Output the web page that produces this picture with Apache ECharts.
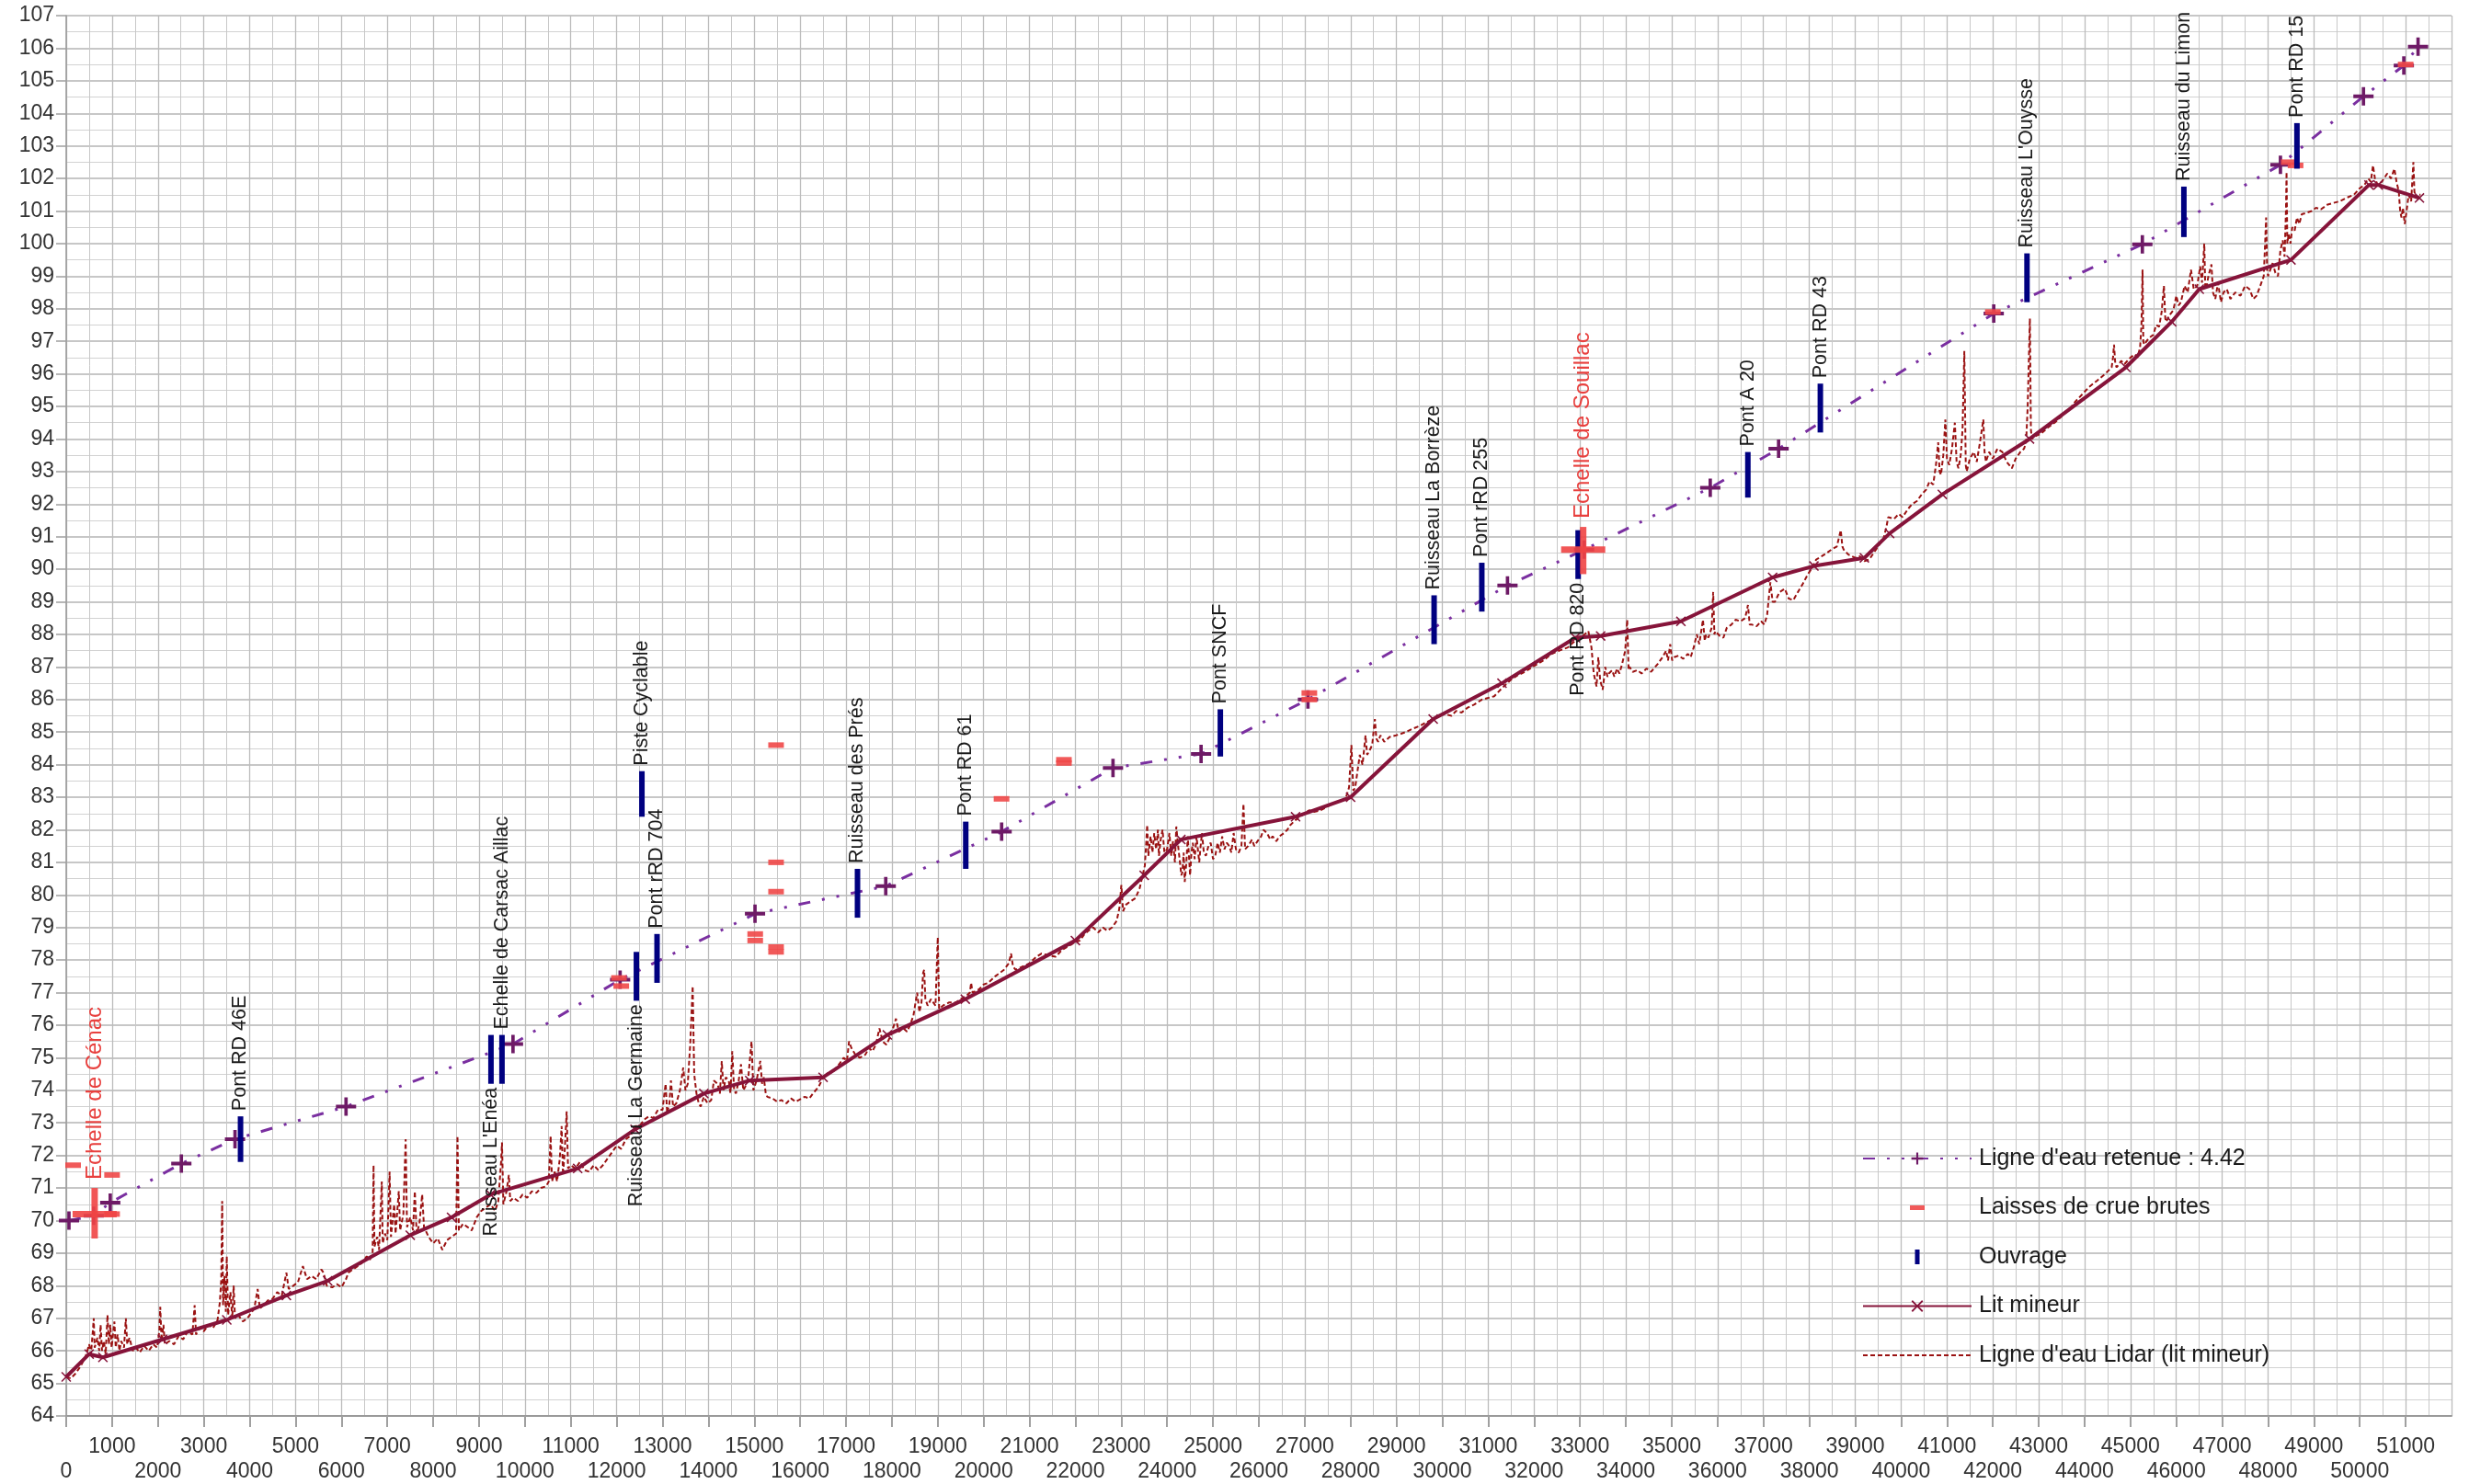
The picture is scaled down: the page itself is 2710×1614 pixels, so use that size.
<!DOCTYPE html>
<html>
<head>
<meta charset="utf-8">
<script src="https://cdn.jsdelivr.net/npm/echarts@6/dist/echarts.min.js"></script>
<style>
html,body{margin:0;padding:0;background:#fff;}
#chart{width:2710px;height:1614px;}
</style>
</head>
<body>
<div id="chart"></div>
<script>
// ---------------- DATA ----------------
const xTickValues = {min: 0, max: 52000, step: 1000};
const yTickValues = {min: 64, max: 107, step: 1};

const ligneEauRetenue = [
  [60,70.0],[600,70.15],[960,70.55],[2510,71.75],[3680,72.5],[6100,73.5],[9740,75.42],
  [12075,77.4],[15016,79.42],[17866,80.27],[20392,81.94],[22820,83.9],[24740,84.33],
  [27070,86.0],[31420,89.5],[33090,90.6],[35840,92.5],[37330,93.7],[42020,97.85],
  [45260,99.98],[48270,102.42],[50080,104.52],[50960,105.47],[51270,106.05]
];

const laissesCrue = [
  [150,71.7],[1000,71.4],[1000,70.2],[12050,77.45],[12100,77.2],[15020,78.8],[15020,78.6],
  [15475,84.6],[15475,81.0],[15475,80.1],[15475,78.4],[15475,78.25],[20390,82.95],
  [21750,84.15],[21750,84.05],[27100,86.2],[27100,86.0],[42000,97.9],[48450,102.5],
  [48600,102.4],[51000,105.5]
];

const ouvrageNames = [
  "Pont RD 46E","Ruisseau L'Enéa","Echelle de Carsac Aillac","Ruisseau La Germaine",
  "Piste Cyclable","Pont rRD 704","Ruisseau des Prés","Pont RD 61","Pont SNCF",
  "Ruisseau La Borrèze","Pont rRD 255","Pont RD 820","Pont A 20","Pont RD 43",
  "Ruisseau L'Ouysse","Ruisseau du Limon","Pont RD 15"
];
const ouvrageX    = [3800, 9260, 9500, 12430, 12550, 12880, 17250, 19610, 25160, 29820, 30860, 32960, 36660, 38240, 42745, 46165, 48630];
const ouvrageYmin = [71.8, 74.2, 74.2, 76.75, 82.4, 77.3, 79.3, 80.8, 84.25, 87.7, 88.7, 89.7, 92.2, 94.2, 98.2, 100.2, 102.3];
const ouvrageYmax = [73.2, 75.7, 75.7, 78.25, 83.8, 78.8, 80.8, 82.25, 85.7, 89.2, 90.2, 91.2, 93.6, 95.7, 99.7, 101.75, 103.7];
const labelsBelow = ["Ruisseau L'Enéa","Ruisseau La Germaine","Pont RD 820"];

const echelleNames = ["Echelle de Cénac","Echelle de Souillac"];
const echelleX     = [620, 33070];
const echelleYmid  = [70.2, 90.6];
const echelleYmin  = [69.45, 89.85];
const echelleYmax  = [71.0, 91.3];

const litMineur = [
  [0,65.2],[500,65.9],[800,65.8],[2100,66.35],[3500,66.95],[4800,67.7],[5700,68.15],
  [7500,69.55],[8400,70.1],[9250,70.8],[11150,71.6],[12400,72.8],[13900,73.9],[14900,74.3],
  [16500,74.4],[17900,75.7],[19600,76.8],[22000,78.6],[23500,80.6],[24300,81.7],[26800,82.4],
  [28000,83.0],[29800,85.4],[31300,86.5],[32900,87.9],[33450,87.95],[35200,88.4],[37200,89.75],
  [38100,90.1],[39200,90.35],[39750,91.1],[40900,92.3],[42800,94.0],[44900,96.2],[45900,97.6],
  [46500,98.6],[48500,99.5],[50200,101.8],[50400,101.8],[51300,101.4]
];

const lidar = [
[0,65.2],[100,65.15],[200,65.3],[300,65.5],[400,65.75],[450,65.95],[500,66.2],[540,65.9],[580,66.6],[600,67.0],[620,66.1],[680,66.4],[720,66.0],[750,66.8],[780,66.0],[820,66.3],[860,65.9],[900,67.1],[930,66.2],[960,66.8],[990,66.1],[1050,66.9],[1080,66.1],[1120,66.5],[1160,66.0],[1200,66.3],[1260,66.1],[1300,67.0],[1330,66.2],[1380,66.4],[1450,66.0],[1520,66.1],[1600,65.95],[1700,66.15],[1800,66.0],[1900,66.2],[1980,66.1],[2030,66.6],[2050,67.35],[2080,66.3],[2120,66.8],[2150,66.2],[2250,66.3],[2350,66.2],[2450,66.45],[2550,66.35],[2650,66.6],[2750,66.5],[2800,67.4],[2830,66.5],[2900,66.7],[3000,66.6],[3100,66.8],[3200,66.7],[3300,66.95],[3350,67.5],[3380,68.2],[3400,70.6],[3420,67.4],[3450,68.3],[3480,67.2],[3500,68.9],[3530,67.1],[3580,67.8],[3620,67.0],[3650,68.0],[3680,67.0],[3750,67.1],[3850,66.9],[3950,67.0],
[4050,67.2],[4100,67.3],[4174,67.9],[4220,67.3],[4300,67.4],[4400,67.55],[4500,67.6],[4600,67.8],[4700,67.7],[4800,68.4],[4850,67.9],[4950,68.0],[5050,68.1],[5160,68.6],[5250,68.2],[5350,68.3],[5450,68.2],[5560,68.5],[5610,68.4],[5680,68.0],[5800,67.95],[5900,68.05],[6000,67.95],[6100,68.2],[6150,68.4],[6250,68.5],[6350,68.6],[6450,68.7],[6550,68.9],[6620,68.8],
[6680,69.0],[6700,71.7],[6720,69.2],[6780,69.5],[6820,69.1],[6880,71.2],[6900,69.3],[6950,69.6],[7000,69.4],[7050,71.5],[7080,69.5],[7150,70.5],[7180,69.6],[7250,70.9],[7280,69.7],[7350,70.2],[7400,72.5],[7430,69.8],[7500,70.1],[7560,69.7],[7600,70.9],[7640,69.6],[7700,69.9],[7760,70.8],[7800,69.8],[7900,69.5],[8000,69.3],[8100,69.45],[8200,69.1],[8300,69.4],[8400,69.5],[8500,69.6],[8530,72.6],[8560,69.7],[8650,69.9],[8750,69.8],[8840,69.7],[8950,70.1],[9050,70.3],[9150,70.4],[9250,70.5],[9350,70.3],[9420,70.6],[9480,71.8],[9500,72.4],[9530,70.5],[9600,70.9],[9650,71.4],[9680,70.6],[9750,70.7],[9850,70.6],[9950,70.8],[10050,70.7],[10150,70.9],[10250,70.85],[10350,71.0],[10460,71.05],[10520,71.2],[10560,72.6],[10590,71.2],[10650,71.5],[10700,71.2],[10760,71.9],[10800,72.9],[10830,71.4],[10870,72.2],[10910,73.35],[10940,71.6],[11000,71.7],[11100,71.6],[11200,71.8],[11300,71.55],[11400,71.5],[11500,71.7],[11600,71.55],[11700,71.7],[11800,71.9],[11900,72.1],[12000,72.3],[12100,72.2],[12200,72.5],[12300,72.6],[12400,72.9],
[12500,72.9],[12600,73.1],[12700,73.2],[12800,73.15],[12900,73.4],[13000,73.4],[13040,73.9],[13068,74.2],[13100,73.3],[13150,73.6],[13183,74.3],[13230,73.5],[13300,73.6],[13380,74.0],[13450,74.7],[13500,74.0],[13550,74.2],[13603,75.4],[13657,77.2],[13690,74.5],[13740,73.9],[13790,73.6],[13832,73.5],[13900,73.8],[13980,73.6],[14061,73.7],[14120,74.3],[14200,74.2],[14250,73.9],[14291,74.9],[14330,74.0],[14380,74.4],[14443,74.3],[14480,73.9],[14520,75.2],[14560,74.0],[14600,73.9],[14660,74.3],[14711,74.8],[14760,74.0],[14800,74.1],[14870,74.4],[14940,75.5],[14980,74.0],[15050,74.3],[15131,74.9],[15170,74.2],[15207,74.4],[15250,73.9],[15284,73.8],[15400,73.75],[15500,73.65],[15590,73.7],[15700,73.6],[15800,73.75],[15900,73.65],[15971,73.7],[16100,73.8],[16200,73.75],[16277,73.9],[16400,74.1],[16506,74.4],[16600,74.5],[16735,74.6],[16850,74.8],[16950,75.0],[17020,74.9],
[17066,75.5],[17117,75.3],[17200,75.1],[17300,75.0],[17423,75.1],[17500,75.3],[17577,75.2],[17650,75.4],[17728,75.9],[17800,75.5],[17881,75.4],[17980,75.7],[18089,76.2],[18150,75.8],[18250,75.9],[18330,75.8],[18396,76.0],[18470,76.3],[18550,77.0],[18600,76.4],[18645,76.7],[18680,77.6],[18703,77.7],[18730,76.8],[18780,76.6],[18850,76.8],[18950,76.6],[19000,78.7],[19030,76.5],[19113,76.6],[19250,76.7],[19400,76.7],[19500,76.8],[19624,76.9],[19700,77.0],[19727,77.3],[19760,77.0],[19900,77.1],[20000,77.25],[20100,77.3],[20250,77.5],[20350,77.6],[20443,77.7],[20550,77.9],[20597,78.2],[20640,77.8],[20700,77.7],[20850,77.8],[21000,77.9],[21150,78.1],[21262,78.2],[21400,78.15],[21569,78.1],[21700,78.3],[21876,78.45],[22000,78.55],[22100,78.6],[22200,78.8],[22286,78.9],[22388,79.0],[22500,78.85],[22600,79.0],[22695,78.9],[22800,79.0],[22900,79.2],[22960,79.6],[23002,80.3],[23040,79.5],[23104,79.7],[23200,79.8],[23309,79.9],[23400,80.2],[23450,80.5],
[23514,80.9],[23540,81.5],[23565,82.15],[23590,81.2],[23640,81.8],[23680,81.3],[23719,81.9],[23760,81.4],[23800,82.0],[23821,81.2],[23860,81.7],[23900,82.0],[23940,81.3],[24000,81.4],[24050,81.9],[24090,81.2],[24128,81.65],[24170,81.0],[24200,82.1],[24240,81.5],[24280,81.0],[24310,80.6],[24333,80.7],[24360,81.3],[24384,80.4],[24420,81.0],[24450,81.8],[24480,81.1],[24500,80.6],[24530,81.3],[24560,81.6],[24600,81.1],[24640,81.8],[24670,81.4],[24700,81.0],[24730,81.5],[24760,81.9],[24800,81.3],[24845,81.2],[24900,81.5],[24950,81.6],[25000,81.1],[25050,81.2],[25100,81.6],[25150,81.3],[25200,81.8],[25250,81.4],[25300,81.6],[25356,81.5],[25400,81.3],[25450,81.9],[25500,81.4],[25561,81.3],[25620,81.5],[25664,82.8],[25700,81.4],[25766,81.5],[25850,81.7],[25900,81.5],[25971,81.65],[26050,81.8],[26100,82.0],[26176,81.9],[26250,81.7],[26300,81.8],[26380,81.65],[26450,81.8],[26550,81.9],[26620,82.0],[26688,82.15],[26800,82.3],[26892,82.4],[27000,82.5],[27096,82.6],[27200,82.55],[27350,82.6],[27480,82.7],[27608,82.8],[27700,82.85],[27813,82.9],[27900,83.0],[27966,83.3],
[28017,84.6],[28060,83.2],[28100,83.3],[28150,83.8],[28200,84.3],[28260,84.0],[28325,84.9],[28360,84.3],[28400,84.4],[28470,84.6],[28529,85.4],[28560,84.8],[28600,84.7],[28650,84.9],[28734,84.7],[28850,84.85],[28990,84.9],[29100,84.95],[29200,85.0],[29350,85.1],[29526,85.2],[29650,85.3],[29800,85.4],[29900,85.5],[30060,85.55],[30200,85.5],[30300,85.65],[30418,85.6],[30550,85.75],[30700,85.85],[30864,86.0],[31000,86.05],[31131,86.1],[31300,86.35],[31488,86.6],[31650,86.75],[31800,86.85],[32023,87.05],[32200,87.2],[32380,87.4],[32550,87.5],[32737,87.6],[32850,87.75],[33004,87.9],[33100,88.0],[33183,88.1],
[33250,87.6],[33300,86.8],[33361,86.4],[33400,87.3],[33440,86.6],[33495,86.3],[33520,86.6],[33550,87.0],[33600,86.7],[33630,86.8],[33700,86.9],[33750,86.7],[33807,86.95],[33860,86.8],[33920,87.1],[33986,87.5],[34030,88.45],[34060,86.9],[34080,87.0],[34150,86.85],[34250,86.9],[34343,86.8],[34450,86.95],[34550,86.85],[34610,86.95],[34700,87.1],[34800,87.3],[34878,87.5],[34920,87.2],[34967,87.7],[35010,87.2],[35056,87.3],[35150,87.35],[35250,87.25],[35350,87.4],[35413,87.3],[35480,87.6],[35547,88.0],[35600,87.7],[35681,88.45],[35720,87.8],[35750,88.0],[35800,87.9],[35870,88.2],[35904,89.3],[35930,88.0],[35950,88.1],[36050,87.95],[36127,87.9],[36200,88.2],[36300,88.3],[36395,88.45],[36500,88.4],[36600,88.5],[36662,88.9],[36700,88.3],[36750,88.3],[36850,88.25],[36950,88.4],[37019,88.3],[37080,88.6],[37150,89.6],[37200,89.0],[37250,89.0],[37350,89.3],[37465,89.4],[37550,89.1],[37650,89.05],[37750,89.3],[37857,89.55],[37950,89.8],
[38064,90.06],[38150,90.3],[38271,90.4],[38380,90.5],[38478,90.6],[38600,90.7],[38685,91.2],[38720,90.7],[38750,90.6],[38850,90.45],[38996,90.35],[39100,90.4],[39200,90.25],[39307,90.3],[39450,90.6],[39550,90.8],[39618,90.95],[39680,91.3],[39720,91.6],[39850,91.55],[39950,91.7],[40032,91.6],[40150,91.85],[40240,92.0],[40350,92.1],[40450,92.3],[40550,92.45],[40620,92.7],[40700,92.6],[40760,93.2],[40809,93.9],[40840,93.0],[40870,92.9],[40920,93.5],[40965,94.6],[41000,93.4],[41050,93.2],[41110,93.7],[41172,94.5],[41210,93.3],[41250,93.1],[41300,93.5],[41340,94.3],[41379,96.7],[41410,93.2],[41431,93.0],[41500,93.4],[41586,93.6],[41650,93.3],[41720,93.9],[41793,94.6],[41820,93.6],[41850,93.3],[41920,93.6],[42000,93.4],[42100,93.7],[42208,93.6],[42300,93.3],[42415,93.1],[42500,93.4],[42600,93.6],[42680,93.7],[42726,93.9],[42760,95.0],[42808,97.7],[42830,94.3],[42850,94.0],[42950,94.1],
[43036,94.15],[43200,94.35],[43347,94.5],[43500,94.7],[43658,94.9],[43800,95.15],[43969,95.4],[44100,95.6],[44280,95.8],[44450,96.0],[44590,96.2],[44620,96.5],[44642,96.9],[44670,96.3],[44700,96.2],[44800,96.4],[44870,96.3],[45000,96.5],[45100,96.6],[45150,96.5],[45210,96.8],[45240,97.5],[45264,99.2],[45280,97.0],[45300,96.9],[45400,97.1],[45500,97.2],[45560,97.5],[45626,97.45],[45680,97.9],[45730,98.7],[45760,97.7],[45780,97.6],[45850,97.8],[45937,97.96],[46000,98.4],[46050,98.1],[46100,98.2],[46180,98.7],[46248,98.5],[46320,99.2],[46380,98.6],[46455,98.7],[46520,99.3],[46560,98.8],[46610,100.0],[46630,98.7],[46650,98.6],[46700,99.0],[46766,99.36],[46800,98.5],[46850,98.3],[46910,98.8],[46973,98.2],[47030,98.5],[47100,98.6],[47180,98.3],[47284,98.5],[47400,98.4],[47500,98.7],[47595,98.6],[47680,98.3],[47750,98.4],[47830,98.7],[47906,99.0],[47930,99.8],[47958,100.8],[47980,99.2],[48000,99.0],[48100,99.4],[48160,99.1],[48216,99.0],[48270,99.8],[48320,100.1],[48360,99.6],[48390,101.0],[48403,102.2],[48420,100.0],[48450,100.3],[48490,100.0],[48527,100.5],[48580,100.4],[48630,100.8],[48680,100.6],[48734,100.9],[48850,100.95],[48950,101.0],[49045,101.1],[49150,101.05],[49300,101.2],[49430,101.25],[49563,101.3],[49700,101.4],[49874,101.5],[50000,101.7],[50100,101.8],[50184,102.0],[50240,101.9],[50288,102.4],[50330,102.0],[50390,101.8],[50480,101.9],[50598,102.15],[50680,102.0],[50753,102.3],[50800,101.9],[50850,101.6],[50880,101.0],[50909,100.8],[50940,101.1],[50980,100.6],[51020,101.0],[51065,101.5],[51120,101.3],[51168,102.5],[51190,101.6],[51220,101.4],[51270,101.5],[51324,101.5]
];

const seriesNames = ["Ligne d'eau retenue : 4.42","Laisses de crue brutes","Ouvrage","Lit mineur","Ligne d'eau Lidar (lit mineur)"];

// ---------------- CHART ----------------
const FONT = '"Liberation Sans", Arial, sans-serif';
const chart = echarts.init(document.getElementById('chart'), null, {renderer: 'canvas'});

const ouvrageData = ouvrageX.map((x, i) => [x, ouvrageYmin[i], ouvrageYmax[i], i]);
const echelleData = echelleX.map((x, i) => [x, echelleYmid[i], echelleYmin[i], echelleYmax[i], i]);

const plusPath = 'path://M-2,-10L2,-10L2,10L-2,10Z M-12,-2L12,-2L12,2L-12,2Z';
const crossPath = 'path://M0,1L1,0L5,4L9,0L10,1L6,5L10,9L9,10L5,6L1,10L0,9L4,5Z';

const option = {
  animation: false,
  backgroundColor: '#ffffff',
  grid: {left: 72, right: 44, top: 17, bottom: 70, containLabel: false},
  legend: {
    orient: 'vertical', left: 2025, top: 1245, padding: 0,
    itemWidth: 118, itemHeight: 16, itemGap: 23.5, selectedMode: false,
    textStyle: {fontSize: 25, fontFamily: FONT, color: '#1a1a1a', lineHeight: 30, padding: [0, 0, 0, 3]},
    data: [
      {name: seriesNames[0]},
      {name: seriesNames[1], icon: 'path://M0,0L0,0M118,16L118,16M51,5.5L67,5.5L67,10.5L51,10.5Z'},
      {name: seriesNames[2], icon: 'path://M0,0L0,0M118,16L118,16M56.5,0L61.5,0L61.5,16L56.5,16Z'},
      {name: seriesNames[3]},
      {name: seriesNames[4], itemStyle: {opacity: 0}}
    ]
  },
  xAxis: {
    type: 'value', min: xTickValues.min, max: xTickValues.max, interval: xTickValues.step,
    axisLine: {show: true, onZero: false, lineStyle: {color: '#9a9a9a', width: 2}},
    axisTick: {show: true, length: 12, lineStyle: {color: '#a0a0a0', width: 2}},
    axisLabel: {
      fontSize: 23, fontFamily: FONT, color: '#333', margin: 20, lineHeight: 27,
      formatter: v => (((v / 1000) % 2 === 0) ? '\n' : '') + v
    },
    splitLine: {show: true, lineStyle: {color: '#bcbcbc', width: 1.3}},
    minorTick: {show: false, splitNumber: 2},
    minorSplitLine: {show: true, lineStyle: {color: '#c8c8c8', width: 1}}
  },
  yAxis: {
    type: 'value', min: yTickValues.min, max: yTickValues.max, interval: yTickValues.step,
    axisLine: {show: true, lineStyle: {color: '#9a9a9a', width: 1.5}},
    axisTick: {show: true, length: 11, lineStyle: {color: '#a0a0a0', width: 1.5}},
    axisLabel: {fontSize: 23, fontFamily: FONT, color: '#333', margin: 13},
    splitLine: {show: true, lineStyle: {color: '#b4b4b4', width: 1.5}},
    minorTick: {show: false, splitNumber: 2},
    minorSplitLine: {show: true, lineStyle: {color: '#d2d2d2', width: 1}}
  },
  series: [
    {
      name: seriesNames[4], type: 'line', data: lidar, symbol: 'none', z: 2,
      lineStyle: {color: '#9a1212', width: 2, type: [5, 3]},
      itemStyle: {color: '#9a1212'}
    },
    {
      name: seriesNames[3], type: 'line', data: litMineur, z: 3,
      symbol: crossPath, symbolSize: 11, showAllSymbol: true,
      lineStyle: {color: '#86143a', width: 4},
      itemStyle: {color: '#86143a'}
    },
    {
      name: seriesNames[0], type: 'line', data: ligneEauRetenue, z: 4,
      symbol: plusPath, symbolSize: [22, 20], showAllSymbol: true,
      lineStyle: {color: '#7a2fa0', width: 3, type: [13, 13, 3, 13, 3, 13]},
      itemStyle: {color: '#6e1a66'}
    },
    {
      name: seriesNames[1], type: 'scatter', data: laissesCrue, z: 5,
      symbol: 'rect', symbolSize: [17, 6],
      itemStyle: {color: '#f04848', opacity: 0.9}
    },
    {
      name: seriesNames[2], type: 'custom', data: ouvrageData, z: 6,
      itemStyle: {color: '#000080'},
      encode: {x: 0, y: [1, 2]},
      renderItem: function (params, api) {
        const x = api.value(0), y0 = api.value(1), y1 = api.value(2);
        const idx = api.value(3);
        const name = ouvrageNames[idx];
        const pLow = api.coord([x, y0]), pHigh = api.coord([x, y1]);
        const below = labelsBelow.indexOf(name) >= 0;
        return {
          type: 'group',
          children: [
            {type: 'rect', shape: {x: pLow[0] - 3, y: pHigh[1], width: 6, height: pLow[1] - pHigh[1]},
             style: {fill: '#000080'}},
            {type: 'text', x: pLow[0], y: below ? pLow[1] + 4 : pHigh[1] - 6, rotation: Math.PI / 2,
             style: {text: name, align: below ? 'right' : 'left', verticalAlign: 'middle',
                     fill: '#1a1a1a', fontSize: 21.5, fontFamily: FONT}}
          ]
        };
      }
    },
    {
      name: 'Echelles', type: 'custom', data: echelleData, z: 7,
      itemStyle: {color: '#ef4444'},
      encode: {x: 0, y: [2, 3]},
      renderItem: function (params, api) {
        const x = api.value(0), ym = api.value(1), y0 = api.value(2), y1 = api.value(3);
        const name = echelleNames[api.value(4)];
        const pm = api.coord([x, ym]), pLow = api.coord([x, y0]), pHigh = api.coord([x, y1]);
        return {
          type: 'group',
          children: [
            {type: 'rect', shape: {x: pm[0] - 3.5, y: pHigh[1], width: 7, height: pLow[1] - pHigh[1]},
             style: {fill: '#ef4444', opacity: 0.9}},
            {type: 'rect', shape: {x: pm[0] - 24, y: pm[1] - 3.5, width: 48, height: 7},
             style: {fill: '#ef4444', opacity: 0.9}},
            {type: 'text', x: pm[0], y: pHigh[1] - 9, rotation: Math.PI / 2,
             style: {text: name, align: 'left', verticalAlign: 'middle',
                     fill: '#e8403e', fontSize: 24, fontFamily: FONT}}
          ]
        };
      }
    }
  ]
};
chart.setOption(option);
</script>
</body>
</html>
